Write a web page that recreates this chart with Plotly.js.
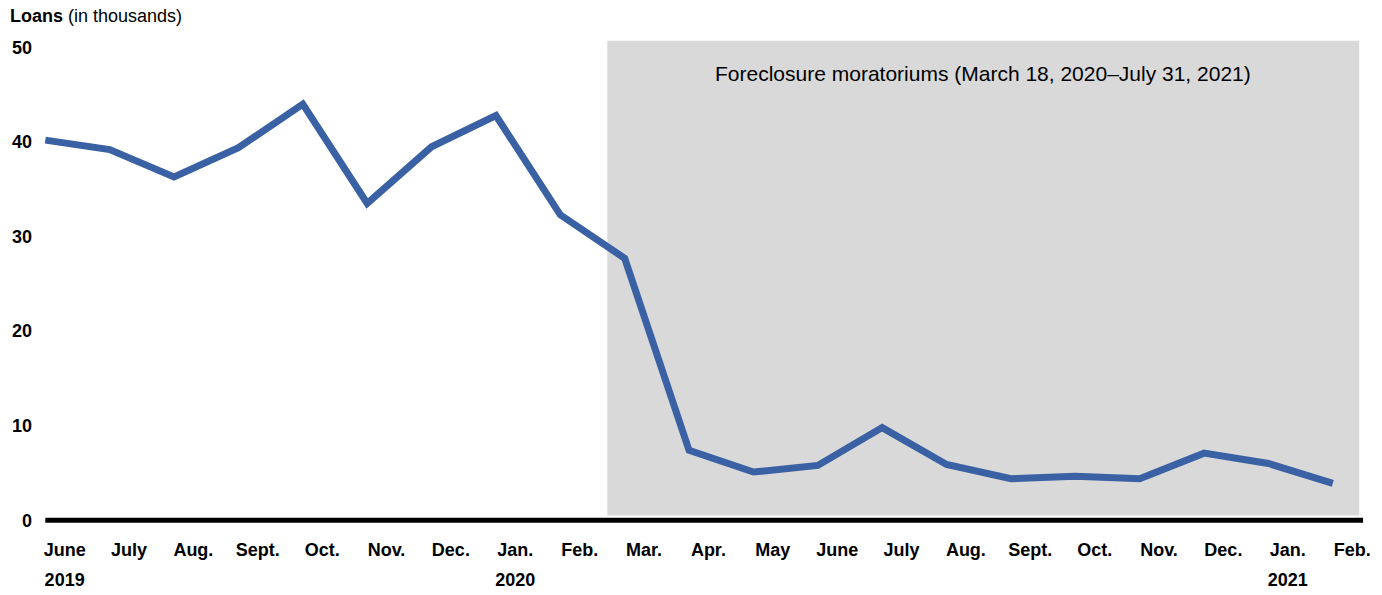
<!DOCTYPE html>
<html>
<head>
<meta charset="utf-8">
<script src="https://cdn.plot.ly/plotly-3.0.1.min.js"></script>
<style>html,body{margin:0;padding:0;background:#fff;}#chart{width:1382px;height:595px;}</style>
</head>
<body>
<div id="chart"></div>
<script>
// Data
const months = ["June","July","Aug.","Sept.","Oct.","Nov.","Dec.","Jan.","Feb.","Mar.","Apr.","May","June","July","Aug.","Sept.","Oct.","Nov.","Dec.","Jan.","Feb."];
const years = ["2019","2020","2021"];
const yearIndex = [0, 7, 19];
const loans = [40.2, 39.2, 36.3, 39.4, 44.0, 33.5, 39.5, 42.8, 32.3, 27.7, 7.4, 5.1, 5.8, 9.8, 5.9, 4.4, 4.65, 4.4, 7.1, 6.0, 3.9];
const moratoriumStart = 8.73; // March 18, 2020 (in month-index units)
const moratoriumEnd = 20.41;
const moratoriumLabel = "Foreclosure moratoriums (March 18, 2020\u2013July 31, 2021)";
const yTicks = [0, 10, 20, 30, 40, 50];

const idx = months.map((_, i) => i);
const labelOffset = 0.3;
const FONT = "Liberation Sans, Arial, sans-serif";

const traces = [
  {
    x: idx, y: loans, type: "scatter", mode: "lines",
    line: {color: "#3A61A3", width: 7},
    hoverinfo: "skip", xaxis: "x", yaxis: "y"
  },
  {
    x: [0], y: [null], type: "scatter", mode: "lines", xaxis: "x2", yaxis: "y",
    hoverinfo: "skip", showlegend: false
  }
];

const layout = {
  width: 1382, height: 595,
  margin: {l: 26, r: 17, t: 37.5, b: 70.3},
  paper_bgcolor: "#fff", plot_bgcolor: "#fff",
  showlegend: false,
  font: {family: FONT, color: "#000"},
  title: {
    text: "<b>Loans</b> (in thousands)",
    x: 10/1382, xref: "container", xanchor: "left",
    y: 1 - 16/595, yref: "container", yanchor: "middle",
    font: {family: FONT, size: 18, color: "#000"}
  },
  xaxis: {
    range: [-0.3, 20.5], showgrid: false, zeroline: false, showline: false,
    ticks: "", tickmode: "array",
    tickvals: idx.map(i => i + labelOffset),
    ticktext: months.map(m => "<b>" + m + "</b>"),
    tickfont: {family: FONT, size: 18, color: "#000"},
    ticklabelstandoff: 12,
    fixedrange: true
  },
  xaxis2: {
    overlaying: "x", anchor: "y", side: "bottom", matches: "x",
    range: [-0.3, 20.5], showgrid: false, zeroline: false, showline: false,
    ticks: "", tickmode: "array",
    tickvals: yearIndex.map(i => i + labelOffset),
    ticktext: years.map(y => "<b>" + y + "</b>"),
    tickfont: {family: FONT, size: 18, color: "#000"},
    ticklabelstandoff: 42
  },
  yaxis: {
    range: [-0.5, 51], showgrid: false, zeroline: false, showline: false,
    ticks: "", tickmode: "array", tickvals: yTicks,
    ticktext: yTicks.map(v => "<b>" + v + "</b>"),
    tickfont: {family: FONT, size: 18, color: "#000"},
    anchor: "free", position: 0.0045,
    fixedrange: true
  },
  shapes: [
    {
      type: "rect", layer: "below", xref: "x", yref: "y",
      x0: moratoriumStart, x1: moratoriumEnd, y0: 0.5, y1: 50.7,
      fillcolor: "#D9D9D9", line: {width: 0}
    },
    {
      type: "line", layer: "above", xref: "x", yref: "y",
      x0: 0, x1: 20.47, y0: 0, y1: 0,
      line: {color: "#000", width: 5}
    }
  ],
  annotations: [
    {
      text: moratoriumLabel, xref: "x", yref: "y",
      x: (moratoriumStart + moratoriumEnd) / 2, y: 47.2,
      xanchor: "center", yanchor: "middle", showarrow: false,
      font: {family: FONT, size: 21, color: "#000"}
    }
  ]
};

Plotly.newPlot("chart", traces, layout, {displayModeBar: false, staticPlot: true});
</script>
</body>
</html>
